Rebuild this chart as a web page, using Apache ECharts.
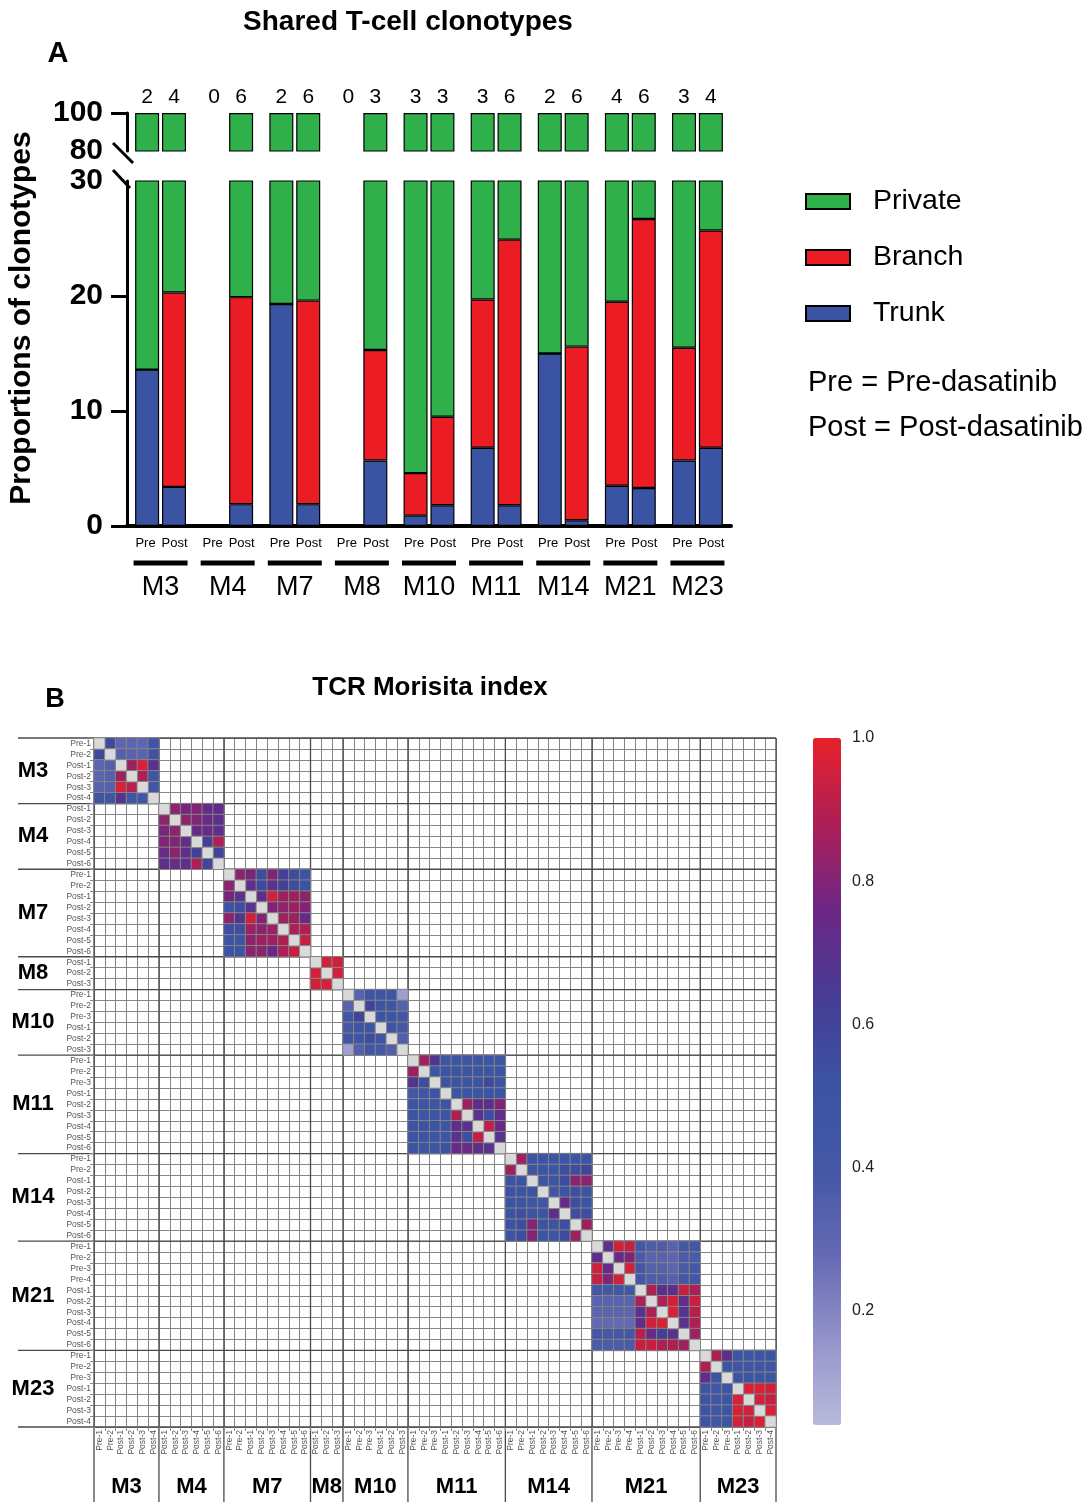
<!DOCTYPE html>
<html><head><meta charset="utf-8">
<script src="https://cdn.jsdelivr.net/npm/echarts@6/dist/echarts.min.js"></script>
<style>html,body{margin:0;padding:0;background:#fff}#c{width:1086px;height:1502px}</style>
</head><body><div id="c"></div>
<script>
// ---------- Panel A data ----------
const groups = ['M3','M4','M7','M8','M10','M11','M14','M21','M23'];
const preTrunk    = [13.6, null, 19.3, null, 0.9, 6.8, 15.0, 3.5, 5.7];
const preBranch   = [0,    null, 0,    null, 3.7, 12.9, 0,   16.0, 9.8];
const prePrivate  = [86.4, null, 80.7, null, 95.4, 80.3, 85.0, 80.5, 84.5];
const postTrunk   = [3.4, 1.9, 1.9, 5.7, 1.8, 1.8, 0.5, 3.3, 6.8];
const postBranch  = [16.9, 18.0, 17.7, 9.6, 7.7, 23.1, 15.1, 23.4, 18.9];
const postPrivate = [79.7, 80.1, 80.4, 84.7, 90.5, 75.1, 84.4, 73.3, 74.3];
const preCounts  = [2, 0, 2, 0, 3, 3, 2, 4, 3];
const postCounts = [4, 6, 6, 3, 3, 6, 6, 6, 4];
const upperTicks = [80, 100];
const lowerTicks = [0, 10, 20, 30];

// ---------- Panel B data ----------
const patients = ['M3','M4','M7','M8','M10','M11','M14','M21','M23'];
const samplesM3  = ['Pre-1','Pre-2','Post-1','Post-2','Post-3','Post-4'];
const samplesM4  = ['Post-1','Post-2','Post-3','Post-4','Post-5','Post-6'];
const samplesM7  = ['Pre-1','Pre-2','Post-1','Post-2','Post-3','Post-4','Post-5','Post-6'];
const samplesM8  = ['Post-1','Post-2','Post-3'];
const samplesM10 = ['Pre-1','Pre-2','Pre-3','Post-1','Post-2','Post-3'];
const samplesM11 = ['Pre-1','Pre-2','Pre-3','Post-1','Post-2','Post-3','Post-4','Post-5','Post-6'];
const samplesM14 = ['Pre-1','Pre-2','Post-1','Post-2','Post-3','Post-4','Post-5','Post-6'];
const samplesM21 = ['Pre-1','Pre-2','Pre-3','Pre-4','Post-1','Post-2','Post-3','Post-4','Post-5','Post-6'];
const samplesM23 = ['Pre-1','Pre-2','Pre-3','Post-1','Post-2','Post-3','Post-4'];

const mM3 = [
[null,0.58,0.30,0.30,0.30,0.47],
[0.58,null,0.34,0.32,0.32,0.47],
[0.30,0.34,null,0.85,0.97,0.70],
[0.30,0.33,0.85,null,0.88,0.46],
[0.32,0.34,0.97,0.90,null,0.46],
[0.48,0.48,0.70,0.46,0.46,null]];
const mM4 = [
[null,0.82,0.78,0.80,0.74,0.72],
[0.82,null,0.82,0.80,0.75,0.72],
[0.78,0.82,null,0.74,0.75,0.72],
[0.80,0.80,0.74,null,0.62,0.88],
[0.74,0.82,0.72,0.62,null,0.60],
[0.72,0.75,0.72,0.88,0.60,null]];
const mM7 = [
[null,0.82,0.78,0.55,0.80,0.62,0.56,0.52],
[0.82,null,0.72,0.58,0.70,0.62,0.56,0.52],
[0.78,0.70,null,0.72,0.95,0.85,0.85,0.82],
[0.52,0.55,0.70,null,0.80,0.82,0.85,0.80],
[0.82,0.68,0.95,0.80,null,0.85,0.85,0.75],
[0.55,0.55,0.85,0.82,0.85,null,0.88,0.88],
[0.50,0.50,0.82,0.85,0.85,0.88,null,0.93],
[0.50,0.50,0.82,0.82,0.75,0.88,0.93,null]];
const mM8 = [
[null,0.96,0.95],
[0.96,null,0.96],
[0.95,0.96,null]];
const mM10 = [
[null,0.32,0.48,0.48,0.48,0.12],
[0.32,null,0.60,0.48,0.48,0.34],
[0.45,0.60,null,0.50,0.50,0.40],
[0.40,0.48,0.50,null,0.50,0.40],
[0.48,0.48,0.55,0.50,null,0.35],
[0.12,0.34,0.40,0.40,0.35,null]];
const mM11 = [
[null,0.85,0.68,0.50,0.50,0.50,0.50,0.50,0.50],
[0.85,null,0.50,0.50,0.50,0.50,0.50,0.50,0.50],
[0.68,0.55,null,0.50,0.50,0.50,0.50,0.58,0.50],
[0.40,0.45,0.50,null,0.50,0.50,0.50,0.50,0.50],
[0.50,0.50,0.50,0.50,null,0.85,0.72,0.72,0.80],
[0.50,0.50,0.50,0.50,0.88,null,0.70,0.55,0.72],
[0.50,0.50,0.50,0.50,0.72,0.70,null,0.92,0.75],
[0.50,0.50,0.50,0.50,0.70,0.55,0.92,null,0.70],
[0.50,0.50,0.50,0.52,0.75,0.75,0.72,0.70,null]];
const mM14 = [
[null,0.85,0.50,0.50,0.50,0.50,0.50,0.50],
[0.85,null,0.50,0.50,0.50,0.55,0.55,0.60],
[0.50,0.50,null,0.50,0.50,0.55,0.82,0.82],
[0.50,0.50,0.50,null,0.45,0.50,0.55,0.50],
[0.50,0.50,0.45,0.45,null,0.75,0.55,0.50],
[0.50,0.55,0.50,0.50,0.72,null,0.55,0.55],
[0.50,0.55,0.80,0.50,0.50,0.55,null,0.85],
[0.50,0.55,0.80,0.50,0.50,0.55,0.85,null]];
const mM21 = [
[null,0.72,0.95,0.93,0.40,0.36,0.36,0.32,0.40,0.40],
[0.72,null,0.75,0.80,0.38,0.32,0.32,0.30,0.38,0.38],
[0.95,0.75,null,0.95,0.40,0.34,0.34,0.30,0.38,0.40],
[0.93,0.80,0.95,null,0.40,0.36,0.36,0.33,0.40,0.40],
[0.42,0.42,0.42,0.42,null,0.88,0.72,0.72,0.93,0.88],
[0.32,0.32,0.32,0.32,0.88,null,0.88,0.95,0.72,0.93],
[0.31,0.31,0.31,0.31,0.70,0.88,null,0.97,0.68,0.90],
[0.28,0.28,0.28,0.28,0.72,0.95,0.97,null,0.70,0.88],
[0.40,0.40,0.40,0.40,0.90,0.75,0.62,0.70,null,0.85],
[0.37,0.37,0.37,0.38,0.93,0.93,0.88,0.88,0.85,null]];
const mM23 = [
[null,0.88,0.72,0.50,0.50,0.50,0.50],
[0.88,null,0.50,0.45,0.45,0.45,0.45],
[0.72,0.50,null,0.50,0.50,0.50,0.50],
[0.50,0.45,0.50,null,0.97,0.97,0.95],
[0.50,0.45,0.50,0.97,null,0.95,0.93],
[0.50,0.45,0.50,0.97,0.95,null,0.97],
[0.50,0.45,0.50,0.95,0.93,0.97,null]];
const colorbarTicks = [0.2, 0.4, 0.6, 0.8, 1.0];

const sampleLists = [samplesM3,samplesM4,samplesM7,samplesM8,samplesM10,samplesM11,samplesM14,samplesM21,samplesM23];
const matrices = [mM3,mM4,mM7,mM8,mM10,mM11,mM14,mM21,mM23];

// ---------- build ----------
const F = "'Liberation Sans', Arial, Helvetica, sans-serif";
const GREEN = '#2fb04a', RED = '#ec1c24', BLUE = '#3a53a3';

const ids = [];
const heat = [];
const diag = [];
const groupSpans = [];
let off = 0;
patients.forEach((p, pi) => {
  const s = sampleLists[pi], m = matrices[pi];
  s.forEach(lab => ids.push(p + '|' + lab));
  for (let i = 0; i < s.length; i++) {
    for (let j = 0; j < s.length; j++) {
      if (i === j) diag.push([off + i, off + i, 1]);
      else heat.push([off + j, off + i, m[i][j]]);
    }
  }
  groupSpans.push([off, s.length]);
  off += s.length;
});

const nil = v => (v === null ? '-' : v);
function bar(name, stack, data, color, ai) {
  return {
    type: 'bar', name, stack, data: data.map(nil), xAxisIndex: ai, yAxisIndex: ai,
    barWidth: 24, barGap: '12%', animation: false, silent: true,
    itemStyle: { color, borderColor: '#000', borderWidth: 1.2 }
  };
}
const series = [];
[0, 1].forEach(ai => {
  series.push(bar('Trunk', 'pre' + ai, preTrunk, BLUE, ai));
  series.push(bar('Branch', 'pre' + ai, preBranch, RED, ai));
  series.push(bar('Private', 'pre' + ai, prePrivate, GREEN, ai));
  series.push(bar('Trunk', 'post' + ai, postTrunk, BLUE, ai));
  series.push(bar('Branch', 'post' + ai, postBranch, RED, ai));
  series.push(bar('Private', 'post' + ai, postPrivate, GREEN, ai));
});
const heatIndex = series.length;
series.push({
  type: 'heatmap', xAxisIndex: 2, yAxisIndex: 2, data: heat, animation: false, silent: true,
  itemStyle: { borderColor: '#858585', borderWidth: 1 }
});
series.push({
  type: 'heatmap', xAxisIndex: 2, yAxisIndex: 2, data: diag, animation: false, silent: true,
  itemStyle: { color: '#d9d9d9', borderColor: '#858585', borderWidth: 1 }
});

const yLabelStyle = { fontFamily: F, fontWeight: 'bold', fontSize: 30, color: '#000', margin: 24 };
const yTick = { show: true, length: 16, lineStyle: { width: 3, color: '#000' } };

const option = {
  backgroundColor: '#fff',
  animation: false,
  textStyle: { fontFamily: F },
  legend: {
    data: ['Private', 'Branch', 'Trunk'], orient: 'vertical', left: 805, top: 187, padding: 0,
    icon: 'rect', itemWidth: 44, itemHeight: 15, itemGap: 27, selectedMode: false,
    textStyle: { fontFamily: F, fontSize: 28.5, color: '#000', padding: [0, 0, 0, 18] }
  },
  grid: [
    { left: 127, top: 113, width: 604, height: 38 },
    { left: 127, top: 181, width: 604, height: 345 },
    { left: 94, top: 738, width: 682, height: 689 },
    { left: 813, top: 738, width: 28, height: 687 }
  ],
  xAxis: [
    { type: 'category', gridIndex: 0, data: groups, position: 'top',
      axisLine: { show: false }, axisTick: { show: false },
      axisLabel: { interval: 0, margin: 5,
        formatter: (v, i) => `{a|${preCounts[i]}}{b|${postCounts[i]}}`,
        rich: { a: { width: 27, align: 'center', fontSize: 21, fontFamily: F, color: '#000' },
                b: { width: 27, align: 'center', fontSize: 21, fontFamily: F, color: '#000' } } } },
    { type: 'category', gridIndex: 1, data: groups,
      axisLine: { lineStyle: { color: '#000', width: 4 } }, axisTick: { show: false },
      axisLabel: { interval: 0, margin: 7,
        formatter: (v) => `{p|Pre}{q|Post}\n{l| }\n{g|${v}}`,
        rich: {
          p: { width: 28, align: 'center', fontSize: 13, lineHeight: 20, fontFamily: F, color: '#000' },
          q: { width: 30, align: 'center', fontSize: 13, lineHeight: 20, fontFamily: F, color: '#000' },
          l: { width: 54, height: 5, lineHeight: 20, backgroundColor: '#000', fontSize: 4 },
          g: { fontSize: 27, lineHeight: 30, fontFamily: F, color: '#000' }
        } } },
    { type: 'category', gridIndex: 2, data: ids, position: 'bottom',
      axisLine: { lineStyle: { color: '#555', width: 1 } },
      axisTick: { show: true, interval: 0, length: 4, lineStyle: { color: '#888' } },
      splitLine: { show: true, interval: 0, lineStyle: { color: '#858585', width: 1 } },
      axisLabel: { interval: 0, rotate: 90, fontSize: 8.5, color: '#555', margin: 3, fontFamily: F,
        formatter: v => v.split('|')[1] } },
    { type: 'value', gridIndex: 3, show: false, min: 0, max: 1 }
  ],
  yAxis: [
    { type: 'value', gridIndex: 0, min: 80, max: 100, interval: 20,
      axisLine: { show: true, lineStyle: { color: '#000', width: 3 } },
      axisTick: Object.assign({ customValues: [100] }, yTick),
      splitLine: { show: false },
      axisLabel: Object.assign({ customValues: upperTicks }, yLabelStyle) },
    { type: 'value', gridIndex: 1, min: 0, max: 30, interval: 10,
      axisLine: { show: true, lineStyle: { color: '#000', width: 3 } },
      axisTick: Object.assign({ customValues: [0, 10, 20] }, yTick),
      splitLine: { show: false },
      axisLabel: Object.assign({ customValues: lowerTicks }, yLabelStyle) },
    { type: 'category', gridIndex: 2, data: ids, inverse: true,
      axisLine: { lineStyle: { color: '#555', width: 1 } },
      axisTick: { show: true, interval: 0, length: 4, lineStyle: { color: '#888' } },
      splitLine: { show: true, interval: 0, lineStyle: { color: '#858585', width: 1 } },
      axisLabel: { interval: 0, fontSize: 8.5, color: '#555', margin: 3, fontFamily: F,
        formatter: v => v.split('|')[1] } },
    { type: 'value', gridIndex: 3, min: 0.04, max: 1, position: 'right',
      axisLine: { show: false }, axisTick: { show: false }, splitLine: { show: false },
      axisLabel: { customValues: colorbarTicks, formatter: v => v.toFixed(1),
        fontSize: 16, color: '#222', margin: 11, fontFamily: F } }
  ],
  visualMap: {
    type: 'continuous', min: 0.04, max: 1, seriesIndex: heatIndex, dimension: 2,
    left: 813, top: 738, padding: 0, itemWidth: 28, itemHeight: 687, calculable: false,
    hoverLink: false, showLabel: false,
    inRange: { color: ['#b9b9dd', '#9393c9', '#6468b2', '#4357a6', '#3b53a3', '#463c94', '#6c2785', '#ad1f55', '#e8202a'] }
  },
  series
};

const chart = echarts.init(document.getElementById('c'), null, { renderer: 'canvas' });
chart.setOption(option);

// decorations
const g = [];
const txt = (x, y, text, size, weight, align, extra) => Object.assign({
  type: 'text', x, y, silent: true,
  style: { text, fontFamily: F, fontSize: size, fontWeight: weight || 'normal', fill: '#000',
    align: align || 'center', verticalAlign: 'middle' }
}, extra || {});
g.push(txt(408, 22, 'Shared T-cell clonotypes', 28, 'bold'));
g.push(txt(58, 54, 'A', 29, 'bold'));
g.push(txt(22, 318, 'Proportions of clonotypes', 30, 'bold', 'center', { rotation: Math.PI / 2 }));
g.push(txt(808, 383, 'Pre = Pre-dasatinib', 29, 'normal', 'left'));
g.push(txt(808, 428, 'Post = Post-dasatinib', 29, 'normal', 'left'));
g.push(txt(55, 700, 'B', 27, 'bold'));
g.push(txt(430, 688, 'TCR Morisita index', 26, 'bold'));
// axis break marks
g.push({ type: 'line', silent: true, shape: { x1: 113, y1: 143, x2: 133, y2: 163 }, style: { stroke: '#000', lineWidth: 3 } });
g.push({ type: 'line', silent: true, shape: { x1: 113, y1: 170, x2: 130, y2: 188 }, style: { stroke: '#000', lineWidth: 3 } });

// heatmap group separators and labels
const p0 = chart.convertToPixel({ gridIndex: 2 }, [0, 0]);
const p1 = chart.convertToPixel({ gridIndex: 2 }, [1, 1]);
const cw = p1[0] - p0[0], ch = p1[1] - p0[1];
const hl = p0[0] - cw / 2, ht = p0[1] - ch / 2;
const hr = hl + cw * ids.length;
const sep = { stroke: '#4a4a4a', lineWidth: 1.3 };
const bounds = [0];
groupSpans.forEach(([o, n]) => bounds.push(o + n));
bounds.forEach(k => {
  const y = ht + k * ch, x = hl + k * cw;
  g.push({ type: 'line', silent: true, shape: { x1: 18, y1: y, x2: hr, y2: y }, style: sep });
  g.push({ type: 'line', silent: true, shape: { x1: x, y1: ht, x2: x, y2: 1502 }, style: sep });
});
groupSpans.forEach(([o, n], i) => {
  g.push(txt(33, ht + (o + n / 2) * ch, patients[i], 22, 'bold'));
  g.push(txt(hl + (o + n / 2) * cw, 1487, patients[i], 22, 'bold'));
});
chart.setOption({ graphic: { elements: g } });
</script></body></html>
